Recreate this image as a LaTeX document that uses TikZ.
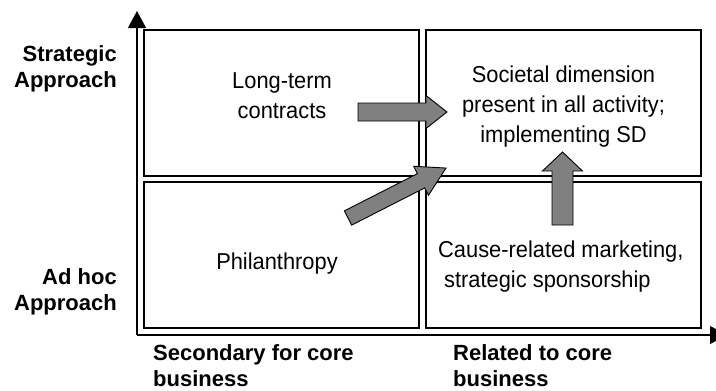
\documentclass[tikz,border=0pt]{standalone}
\usepackage{fontspec}
\setmainfont{Liberation Sans}
\newfontfamily\narrowfont{Liberation Sans}[FakeStretch=0.95]
\usetikzlibrary{arrows.meta}
\definecolor{arrowgray}{RGB}{128,128,128}
\tikzset{>={Triangle[width=18pt,length=17pt]}}
\tikzset{
    axis/.style={line width=1.2pt, ->},
    quad/.style={draw, line width=1.3pt, minimum width=275pt, minimum height=146pt, inner sep=0pt},
    body/.style={font=\narrowfont\fontsize{23}{30}\selectfont, align=center, inner sep=0pt},
    side/.style={font=\fontsize{22}{26}\selectfont\bfseries, inner sep=0pt},
    blockarrow/.style={draw, line width=0.9pt, fill=arrowgray},
    pics/bigarrow/.style n args={4}{code={
        \draw[blockarrow] (0,-#3) -- (#1,-#3) -- (#1,-#4) -- (#2,0) -- (#1,#4) -- (#1,#3) -- (0,#3) -- cycle;
    }}
}

\begin{document}
\begin{tikzpicture}[x=1pt, y=-1pt]
    \useasboundingbox (0,0) rectangle (716,391);
    \clip (0,0) rectangle (716,391);
    \node[quad] (tl) at (281.5,103) {};
    \node[quad] (tr) at (563.5,103) {};
    \node[quad] (bl) at (281.5,255) {};
    \node[quad] (br) at (563.5,255) {};
    \coordinate (origin) at (137,335);
    \coordinate (ytip) at (137,11);
    \coordinate (xtip) at (727,335);
    \draw[axis] (origin) -- (ytip);
    \draw[axis] (origin) -- (xtip);
    \node[body] (longterm) at (282,96) {Long-term\\contracts};
    \node[body] (societal) at (563.5,107) {Societal dimension\\present in all activity;\\implementing SD};
    \node[body] (philan) at (277,264) {Philanthropy};
    \node[body, align=left, anchor=west] (cause) at (438,267) {Cause-related marketing,\\\hspace*{6pt}strategic sponsorship};
    \node[side, align=right, anchor=east] (strat) at (117,69) {Strategic\\Approach};
    \node[side, align=right, anchor=east] (adhoc) at (117,292) {Ad hoc\\Approach};
    \node[side, align=left, anchor=west] (second) at (153,365.5) {Secondary for core\\business};
    \node[side, align=left, anchor=west] (related) at (453,365.5) {Related to core\\business};
    \pic at (358,112) {bigarrow={68}{89}{9}{16.5}};
    \pic[rotate=90] at (562.5,225) {bigarrow={54}{73}{10.5}{20}};
    \pic[rotate=27] at (348,218) {bigarrow={82}{110}{8}{16.3}};
\end{tikzpicture}
\end{document}
